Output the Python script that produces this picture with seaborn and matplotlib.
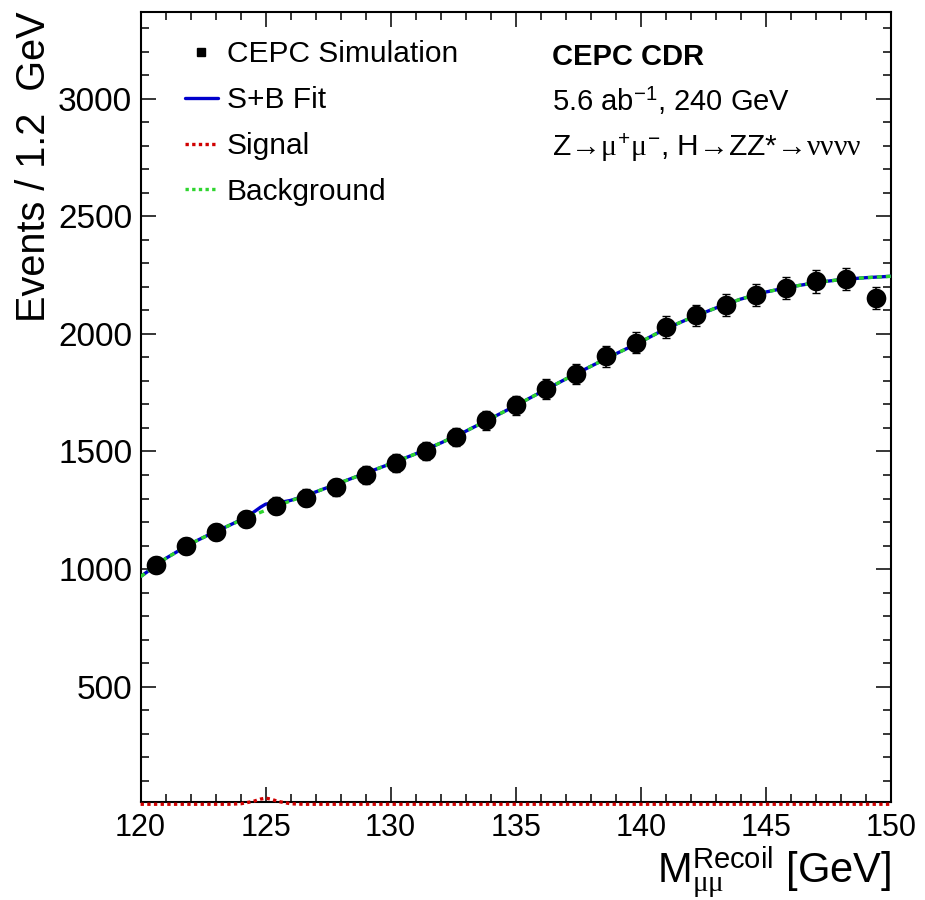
import matplotlib
matplotlib.use("Agg")
import matplotlib.pyplot as plt
import numpy as np
import pandas as pd
import seaborn as sns
from matplotlib.lines import Line2D
from matplotlib.ticker import MultipleLocator

# Recoil mass histogram, 1.2 GeV bins
bin_centers = [120.6, 121.8, 123.0, 124.2, 125.4, 126.6, 127.8, 129.0, 130.2,
               131.4, 132.6, 133.8, 135.0, 136.2, 137.4, 138.6, 139.8, 141.0,
               142.2, 143.4, 144.6, 145.8, 147.0, 148.2, 149.4]
events = [1018, 1099, 1158, 1212, 1269, 1304, 1347, 1399, 1452, 1502, 1562,
          1633, 1696, 1767, 1831, 1904, 1963, 2029, 2079, 2124, 2166, 2194,
          2223, 2234, 2152]

bkg_x = [120, 121, 122, 123, 124, 125, 126, 127, 128, 129, 130, 131, 132,
         133, 134, 135, 136, 137, 138, 139, 140, 141, 142, 143, 144, 145,
         146, 147, 148, 149, 150]
bkg_y = [968, 1045, 1108, 1160, 1207, 1250, 1290, 1328, 1368, 1408, 1448,
         1490, 1536, 1586, 1640, 1695, 1752, 1808, 1862, 1915, 1966, 2022,
         2068, 2110, 2148, 2178, 2200, 2218, 2231, 2239, 2245]

# Signal component (narrow peak near 125 GeV)
sig_x = [120.0, 123.5, 124.0, 124.5, 124.8, 125.0, 125.2, 125.5, 126.0,
         126.5, 150.0]
sig_y = [0, 0, 2, 12, 22, 26, 22, 12, 2, 0, 0]

sns.set_style("ticks")
plt.rcParams["font.family"] = ["Liberation Sans", "DejaVu Sans"]
plt.rcParams["mathtext.fontset"] = "custom"
plt.rcParams["mathtext.rm"] = "Liberation Sans"
plt.rcParams["mathtext.it"] = "Liberation Serif"
plt.rcParams["mathtext.bf"] = "Liberation Sans:bold"
for key in ["text.color", "axes.labelcolor", "xtick.color", "ytick.color",
            "axes.edgecolor"]:
    plt.rcParams[key] = "black"

fig = plt.figure(figsize=(9.25, 9), dpi=100)
ax = fig.add_axes([0.152, 0.109, 0.811, 0.878])

# S+B = background + signal on a shared grid
grid = np.union1d(bkg_x, sig_x)
sb = np.interp(grid, bkg_x, bkg_y) + np.interp(grid, sig_x, sig_y)
df_sb = pd.DataFrame({"x": grid, "y": sb})
df_bkg = pd.DataFrame({"x": bkg_x, "y": bkg_y})
df_sig = pd.DataFrame({"x": sig_x, "y": sig_y})

sns.lineplot(data=df_sb, x="x", y="y", ax=ax, color="#0000cc", lw=2.4,
             zorder=3)
sns.lineplot(data=df_bkg, x="x", y="y", ax=ax, color="#2fd52f", lw=2.4,
             linestyle=(0, (1.5, 1.2)), zorder=4)
sns.lineplot(data=df_sig, x="x", y="y", ax=ax, color="#d00000", lw=2.4,
             linestyle=(0, (1.0, 1.0)), zorder=4)
ax.lines[-1].set_clip_on(False)

ax.errorbar(bin_centers, events, yerr=np.sqrt(events), fmt="none",
            ecolor="black", elinewidth=1.2, capsize=3, zorder=5)
sns.scatterplot(x=bin_centers, y=events, ax=ax, color="black", s=200,
                edgecolor="black", linewidth=0, zorder=6)

ax.set_xlim(120, 150)
ax.set_ylim(10, 3370)
ax.xaxis.set_major_locator(MultipleLocator(5))
ax.xaxis.set_minor_locator(MultipleLocator(1))
ax.yaxis.set_major_locator(MultipleLocator(500))
ax.yaxis.set_minor_locator(MultipleLocator(100))
ax.tick_params(which="both", direction="in", top=True, right=True, width=1.1)
ax.tick_params(which="major", length=11)
ax.tick_params(which="minor", length=5.5)
ax.tick_params(axis="x", pad=8, labelsize=22)
ax.tick_params(axis="y", pad=6, labelsize=24)
for sp in ax.spines.values():
    sp.set_linewidth(1.5)

ax.set_xlabel(r"$\mathregular{M}_{\mu\mu}^{\mathregular{Recoil}}$ [GeV]",
              fontsize=30, loc="right")
ax.xaxis.set_label_coords(1.0, -0.055)
ax.xaxis.label.set_va("top")
ax.set_ylabel("Events / 1.2  GeV", fontsize=28.5, loc="top")
ax.yaxis.set_label_coords(-0.117, 1.0)

handles = [
    Line2D([], [], marker="s", color="black", linestyle="none", markersize=6),
    Line2D([], [], color="#0000cc", lw=2.4),
    Line2D([], [], color="#d00000", lw=2.4, linestyle=(0, (1.0, 1.0))),
    Line2D([], [], color="#2fd52f", lw=2.4, linestyle=(0, (1.0, 1.0))),
]
labels = ["CEPC Simulation", "S+B Fit", "Signal", "Background"]
ax.legend(handles, labels, loc="upper left", bbox_to_anchor=(0.059, 0.964),
          frameon=False, fontsize=21.5, borderpad=0, borderaxespad=0,
          handlelength=1.1, handletextpad=0.3, labelspacing=0.6)

ax.text(0.548, 0.933, "CEPC CDR", transform=ax.transAxes, fontsize=21,
        fontweight="bold", va="baseline")
ax.text(0.548, 0.874, r"5.6 ab$^{-1}$, 240 GeV", transform=ax.transAxes,
        fontsize=21, va="baseline")
ax.text(0.548, 0.817,
        r"Z→$\mu^{+}\mu^{-}$, H→ZZ*→$\nu\nu\nu\nu$",
        transform=ax.transAxes, fontsize=21.5, va="baseline")

fig.savefig("out.png", dpi=100)
